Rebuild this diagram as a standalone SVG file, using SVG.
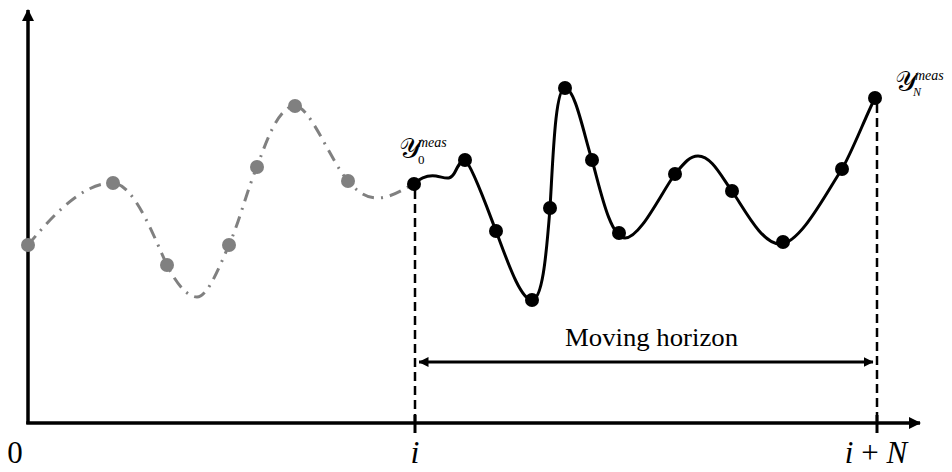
<svg xmlns="http://www.w3.org/2000/svg" width="952" height="472" viewBox="0 0 952 472">
<style>
.axis{stroke:#000;stroke-width:3.5;fill:none}
.tick{stroke:#000;stroke-width:3;fill:none}
.vdash{stroke:#000;stroke-width:2.5;fill:none;stroke-dasharray:9 5}
.past{stroke:#808080;stroke-width:3;fill:none;stroke-dasharray:12 7 2 7}
.curve{stroke:#000;stroke-width:3;fill:none}
.gp{fill:#808080}
.bp{fill:#000}
.lbl{font-family:"Liberation Serif","Times New Roman",serif;fill:#000}
.it{font-style:italic}
</style>
<defs>
<marker id="ah" viewBox="0 0 12 12" refX="11" refY="6" markerWidth="12" markerHeight="12" markerUnits="userSpaceOnUse" orient="auto">
<path d="M0,0 L12,6 L0,12 Z" fill="#000"/>
</marker>
<marker id="ahs" viewBox="0 0 10 10" refX="9.5" refY="5" markerWidth="10" markerHeight="10" markerUnits="userSpaceOnUse" orient="auto-start-reverse">
<path d="M0,0 L10,5 L0,10 Z" fill="#000"/>
</marker>
</defs>
<g id="axes">
<line class="axis" x1="28" y1="424" x2="28" y2="10" marker-end="url(#ah)"/>
<line class="axis" x1="26.25" y1="423" x2="920" y2="423" marker-end="url(#ah)"/>
<line class="tick" x1="415" y1="415" x2="415" y2="433"/>
<line class="tick" x1="877" y1="415" x2="877" y2="433"/>
</g>
<g id="connectors">
<line class="vdash" x1="415" y1="190" x2="415" y2="421"/>
<line class="vdash" x1="877" y1="104" x2="877" y2="421"/>
<line stroke="#000" stroke-width="3" x1="419" y1="362" x2="873" y2="362" marker-start="url(#ahs)" marker-end="url(#ahs)"/>
</g>
<g id="past-curve">
<path class="past" d="M28,245 C45,225 80,182 113,183 C135,184 155,240 167,265 C177,285 188,297 197,297 C208,297 220,265 229,245 C240,220 247,190 257,167 C265,145 278,106 295,106 C310,106 330,160 348,181 C356,190 365,198 377,198 C392,198 405,188 414,184"/>
<circle class="gp" cx="28" cy="245" r="7"/>
<circle class="gp" cx="113" cy="183" r="7"/>
<circle class="gp" cx="167" cy="265" r="7"/>
<circle class="gp" cx="229" cy="245" r="7"/>
<circle class="gp" cx="257" cy="167" r="7"/>
<circle class="gp" cx="295" cy="106" r="7"/>
<circle class="gp" cx="348" cy="181" r="7"/>
</g>
<g id="horizon-curve">
<path class="curve" d="M414,184 C420,178 428,175 436,176 C444,177 450,182 455,172 C458,166 461,160 465,160 C472,165 489,213 496,231 C506,257 520,300 532,300 C542,300 546,260 550,208 C553,160 555,88 565,88 C575,88 584,135 592,160 C600,188 610,238 625,238 C640,238 660,195 675,174 C685,162 690,156 698,156 C712,156 722,178 732,191 C745,210 762,244 780,244 C800,244 825,195 842,169 C852,152 865,118 875,98"/>
<circle class="bp" cx="414" cy="184" r="7"/>
<circle class="bp" cx="465" cy="160" r="7"/>
<circle class="bp" cx="496" cy="231" r="7"/>
<circle class="bp" cx="532" cy="300" r="7"/>
<circle class="bp" cx="550" cy="208" r="7"/>
<circle class="bp" cx="565" cy="88" r="7"/>
<circle class="bp" cx="592" cy="160" r="7"/>
<circle class="bp" cx="619" cy="233" r="7"/>
<circle class="bp" cx="675" cy="174" r="7"/>
<circle class="bp" cx="732" cy="191" r="7"/>
<circle class="bp" cx="783" cy="242" r="7"/>
<circle class="bp" cx="842" cy="169" r="7"/>
<circle class="bp" cx="875" cy="98" r="7"/>
</g>
<g id="label-y0">
<text class="lbl" x="399" y="158" font-size="28">𝒴<tspan class="it" x="418" y="147" font-size="14">meas</tspan><tspan x="418" y="164" font-size="13">0</tspan></text>
</g>
<g id="label-yN">
<text class="lbl" x="895" y="91" font-size="28">𝒴<tspan class="it" x="915" y="80" font-size="14">meas</tspan><tspan class="it" x="913" y="96" font-size="12">N</tspan></text>
</g>
<g id="label-horizon">
<text class="lbl" x="565" y="346" font-size="25" textLength="173" lengthAdjust="spacingAndGlyphs">Moving horizon</text>
</g>
<g id="axis-labels">
<text class="lbl" x="15" y="463" font-size="31" text-anchor="middle">0</text>
<text class="lbl it" x="415" y="463" font-size="32" text-anchor="middle">i</text>
<text class="lbl" x="876" y="463" font-size="31" text-anchor="middle"><tspan class="it">i</tspan> + <tspan class="it">N</tspan></text>
</g>
</svg>
